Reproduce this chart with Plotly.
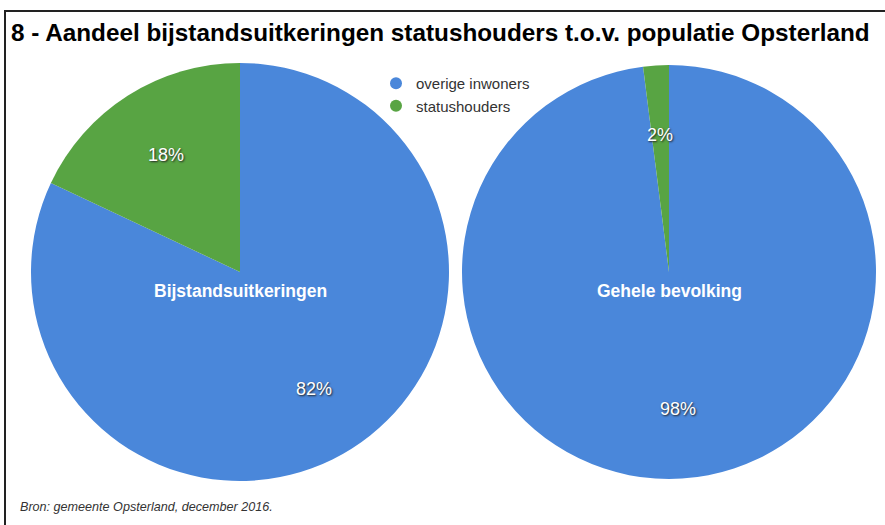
import math
import plotly.graph_objects as go

W, H = 885, 525

title = "8 - Aandeel bijstandsuitkeringen statushouders t.o.v. populatie Opsterland"
source = "Bron: gemeente Opsterland, december 2016."
categories = ["overige inwoners", "statushouders"]
pie_names = ["Bijstandsuitkeringen", "Gehele bevolking"]
values_bijstand = [82, 18]
values_bevolking = [98, 2]

colors = {"statushouders": "#58a443", "overige inwoners": "#4a87da"}

# layout geometry (pixels): (center x, center y, radius)
geoms = [(240, 272, 209), (669, 272, 207)]

def px(x):
    return x / W

def py(y):
    return 1 - y / H

fig = go.Figure()

all_values = [values_bijstand, values_bevolking]
for (cx, cy, R), vals, name in zip(geoms, all_values, pie_names):
    fig.add_trace(go.Pie(
        labels=categories,
        values=vals,
        sort=False,
        direction="clockwise",
        rotation=0,
        marker=dict(colors=[colors[c] for c in categories], line=dict(width=0)),
        textinfo="none",
        hoverinfo="label+percent",
        showlegend=False,
        domain=dict(x=[px(cx - R), px(cx + R)], y=[py(cy + R), py(cy - R)]),
        name=name,
    ))
    # percentage labels along slice mid-angle (clockwise from 12 o'clock)
    total = sum(vals)
    start = 0.0
    for v in vals:
        frac = v / total
        mid = (start + frac / 2) * 2 * math.pi
        start += frac
        lx = cx + 0.665 * R * math.sin(mid)
        ly = cy - 0.665 * R * math.cos(mid)
        fig.add_annotation(
            x=px(lx), y=py(ly), xref="paper", yref="paper",
            xanchor="center", yanchor="middle",
            text=f"{round(frac * 100)}%", showarrow=False,
            font=dict(family="Liberation Sans, Arial", size=18, color="white",
                      shadow="1px 1px 2px #222"),
        )
    fig.add_annotation(
        x=px(cx), y=py(291), xref="paper", yref="paper",
        xanchor="center", yanchor="middle",
        text=f"<b>{name}</b>", showarrow=False,
        font=dict(family="Liberation Sans, Arial", size=17.5, color="white"),
    )

# legend entries with circle markers
for c in categories:
    fig.add_trace(go.Scatter(
        x=[None], y=[None], mode="markers", name=c,
        marker=dict(symbol="circle", size=11, color=colors[c]),
        showlegend=True, hoverinfo="skip",
    ))

fig.add_annotation(
    x=px(W / 2 - 2), y=py(33), xref="paper", yref="paper",
    xanchor="center", yanchor="middle",
    text=f"<b>{title}</b>", showarrow=False,
    font=dict(family="Liberation Sans, Arial", size=24.3, color="black"),
)
fig.add_annotation(
    x=px(18), y=py(507), xref="paper", yref="paper",
    xanchor="left", yanchor="middle",
    text=f"<i>{source}</i>", showarrow=False,
    font=dict(family="Liberation Sans, Arial", size=12.6, color="#333333"),
)

# frame lines
fig.add_shape(type="line", xref="paper", yref="paper",
              x0=px(4), x1=1, y0=py(11), y1=py(11), line=dict(color="#222", width=2))
fig.add_shape(type="line", xref="paper", yref="paper",
              x0=px(5), x1=px(5), y0=py(11), y1=0, line=dict(color="#222", width=2))

fig.update_layout(
    width=W, height=H,
    margin=dict(l=0, r=0, t=0, b=0),
    paper_bgcolor="white", plot_bgcolor="white",
    xaxis=dict(visible=False), yaxis=dict(visible=False),
    legend=dict(x=px(376), y=py(67), xanchor="left", yanchor="top",
                bgcolor="rgba(0,0,0,0)", tracegroupgap=0, itemsizing="constant",
                font=dict(family="Liberation Sans, Arial", size=15, color="#333333"),
                itemwidth=30),
)

fig.write_html("out.html", config={"displayModeBar": False},
               post_script="document.body.style.margin='0';")
